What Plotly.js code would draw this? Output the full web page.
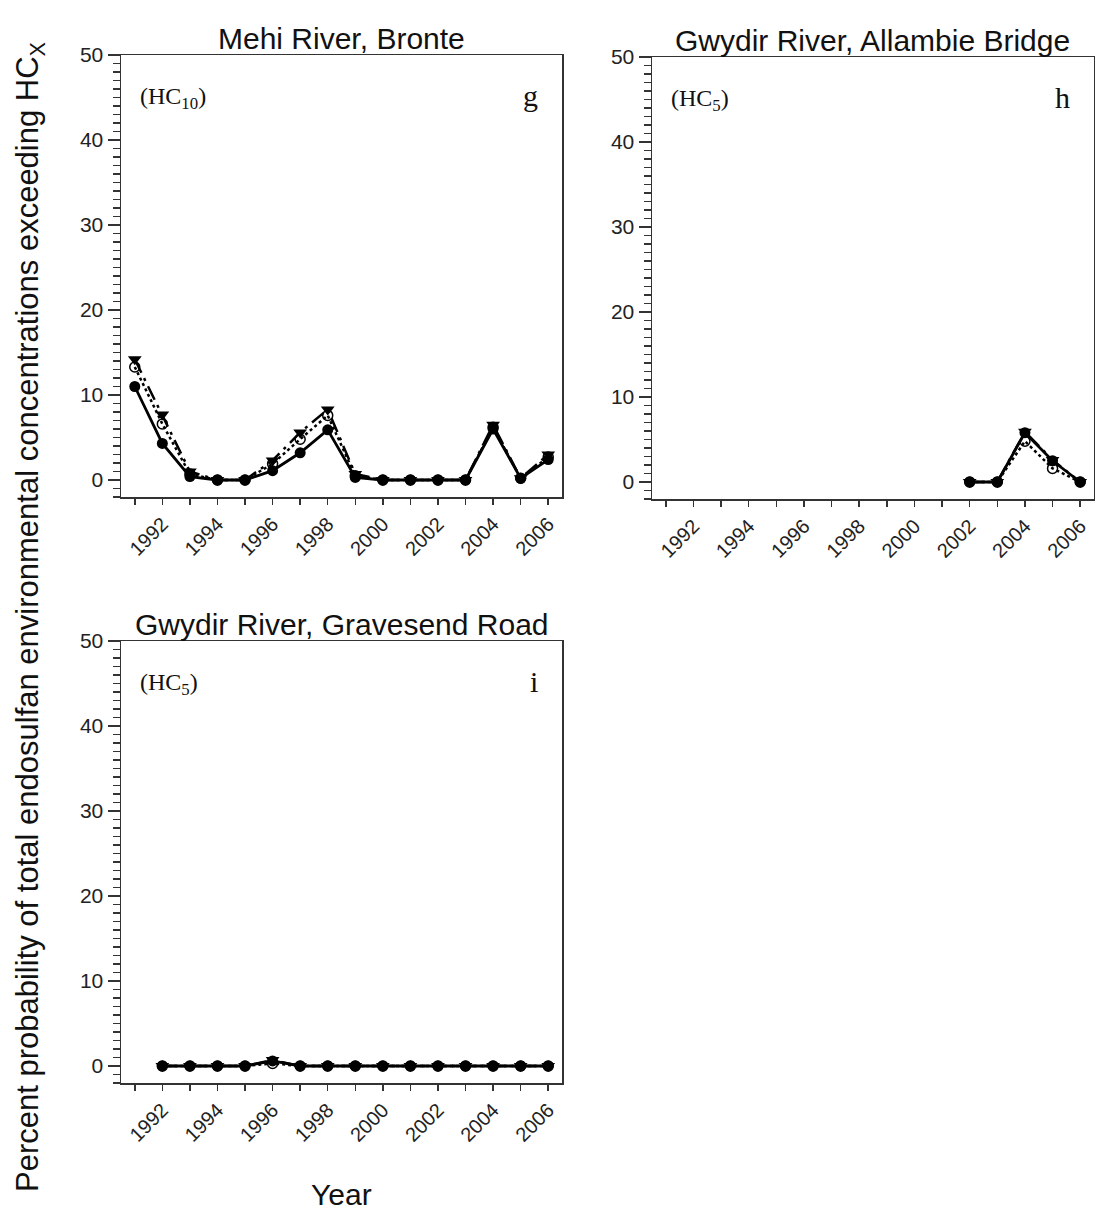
<!DOCTYPE html>
<html>
<head>
<meta charset="utf-8">
<script src="https://cdn.plot.ly/plotly-3.0.1.min.js"></script>
<style>html,body{margin:0;padding:0;background:#fff;}#chart{width:1095px;height:1213px;}</style>
</head>
<body>
<div id="chart"></div>
<script>
// ---- data ----
const yearsG = [1991,1992,1993,1994,1995,1996,1997,1998,1999,2000,2001,2002,2003,2004,2005,2006];
const gFilled = [11.0,4.3,0.4,0,0,1.1,3.2,5.9,0.3,0,0,0,0,6.0,0.2,2.4];
const gOpen   = [13.3,6.6,0.7,0,0,1.9,4.8,7.6,0.5,0,0,0,0,6.2,0.2,2.7];
const gTri    = [14.2,7.7,1.0,0,0,2.3,5.6,8.3,0.7,0,0,0,0,6.5,0.2,3.0];

const yearsH = [2002,2003,2004,2005,2006];
const hFilled = [0,0,5.8,2.5,0];
const hOpen   = [0,0,4.8,1.6,0];
const hTri    = [0,0,5.9,2.6,0];

const yearsI = [1992,1993,1994,1995,1996,1997,1998,1999,2000,2001,2002,2003,2004,2005,2006];
const iFilled = [0,0,0,0,0.6,0,0,0,0,0,0,0,0,0,0];
const iOpen   = [0,0,0,0,0.3,0,0,0,0,0,0,0,0,0,0];
const iTri    = [0,0,0,0,0.7,0,0,0,0,0,0,0,0,0,0];

const panelTitles = ["Mehi River, Bronte","Gwydir River, Allambie Bridge","Gwydir River, Gravesend Road"];
const hcLabels = ["(HC<sub>10</sub>)","(HC<sub>5</sub>)","(HC<sub>5</sub>)"];
const panelLetters = ["g","h","i"];
const yTitle = "Percent probability of total endosulfan environmental concentrations exceeding HC<sub>X</sub>";
const xTitle = "Year";

// ---- traces ----
function series(x, yTriv, yOpenv, yFilledv, xa, ya){
  return [
    {x:x, y:yTriv, xaxis:xa, yaxis:ya, mode:'lines+markers', name:'upper',
     line:{color:'#000', width:2.5, dash:'longdashdot'},
     marker:{symbol:'triangle-down', size:12, color:'#000'}},
    {x:x, y:yOpenv, xaxis:xa, yaxis:ya, mode:'lines+markers', name:'median',
     line:{color:'#000', width:2.5, dash:'dot'},
     marker:{symbol:'circle-open', size:10, color:'#000', line:{width:1.5,color:'#000'}}},
    {x:x, y:yFilledv, xaxis:xa, yaxis:ya, mode:'lines+markers', name:'lower',
     line:{color:'#000', width:2.8},
     marker:{symbol:'circle', size:11, color:'#000'}}
  ];
}
const traces = [].concat(
  series(yearsG, gTri, gOpen, gFilled, 'x', 'y'),
  series(yearsH, hTri, hOpen, hFilled, 'x2', 'y2'),
  series(yearsI, iTri, iOpen, iFilled, 'x3', 'y3')
);

const W = 1095, H = 1213;
const px = v => v / W;
const py = v => 1 - v / H;

function xaxis(dom, anchor){
  return {domain:dom, anchor:anchor, range:[1990.5,2006.5], tick0:1992, dtick:2,
    ticks:'outside', ticklen:6, tickwidth:1.5, tickcolor:'#333', tickangle:-45,
    minor:{dtick:1, tick0:1991, ticks:'outside', ticklen:6, tickwidth:1.5, tickcolor:'#333'},
    showline:true, linecolor:'#333', linewidth:1.5, mirror:true, showgrid:false, zeroline:false,
    tickfont:{family:'Liberation Sans, Arial', size:20, color:'#222'}};
}
function yaxis(dom, anchor){
  return {domain:dom, anchor:anchor, range:[-2,50], tick0:0, dtick:10,
    ticks:'outside', ticklen:12, tickwidth:1.5, tickcolor:'#333',
    minor:{dtick:1, tick0:0, ticks:'outside', ticklen:7, tickwidth:1.2, tickcolor:'#333'},
    showline:true, linecolor:'#333', linewidth:1.5, mirror:true, showgrid:false, zeroline:false,
    tickfont:{family:'Liberation Sans, Arial', size:21, color:'#222'}};
}

const dG = {x:[px(121),px(562)], y:[py(497),py(55)]};
const dH = {x:[px(652),px(1094)], y:[py(499),py(57)]};
const dI = {x:[px(121),px(562)], y:[py(1083),py(641)]};
const doms = [dG,dH,dI];

const annotations = [];
doms.forEach((d,k)=>{
  const cx = (d.x[0]+d.x[1])/2;
  annotations.push({xref:'paper', yref:'paper', x:cx, y:d.y[1], yanchor:'bottom', xanchor:'center', yshift:-2,
    text:panelTitles[k], showarrow:false, font:{family:'Liberation Sans, Arial', size:30, color:'#111'}});
  annotations.push({xref:'paper', yref:'paper', x:d.x[0]+px(17), y:d.y[1]-26/H, xanchor:'left', yanchor:'top',
    text:hcLabels[k], showarrow:false, font:{family:'Liberation Serif, Times New Roman', size:24, color:'#111'}});
  annotations.push({xref:'paper', yref:'paper', x:d.x[1]-px(22), y:d.y[1]-22/H, xanchor:'right', yanchor:'top',
    text:panelLetters[k], showarrow:false, font:{family:'Liberation Serif, Times New Roman', size:30, color:'#111'}});
});
annotations.push({xref:'paper', yref:'paper', x:px(30), y:py(617), xanchor:'center', yanchor:'middle',
  text:yTitle, textangle:-90, showarrow:false, font:{family:'Liberation Sans, Arial', size:31, color:'#111'}});
annotations.push({xref:'paper', yref:'paper', x:px(341), y:py(1194), xanchor:'center', yanchor:'middle',
  text:xTitle, showarrow:false, font:{family:'Liberation Sans, Arial', size:30, color:'#111'}});

const layout = {
  width:W, height:H, margin:{l:0,r:0,t:0,b:0}, showlegend:false,
  paper_bgcolor:'#fff', plot_bgcolor:'#fff',
  xaxis:xaxis(dG.x,'y'), yaxis:yaxis(dG.y,'x'),
  xaxis2:xaxis(dH.x,'y2'), yaxis2:yaxis(dH.y,'x2'),
  xaxis3:xaxis(dI.x,'y3'), yaxis3:yaxis(dI.y,'x3'),
  annotations:annotations
};
Plotly.newPlot('chart', traces, layout, {staticPlot:true});
</script>
</body>
</html>
